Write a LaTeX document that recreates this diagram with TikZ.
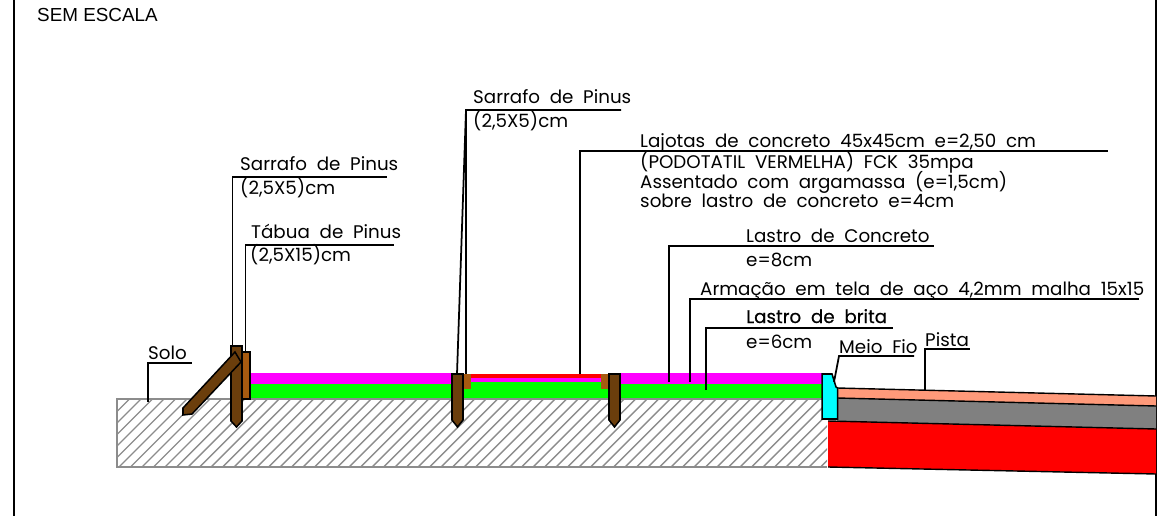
\documentclass[tikz,border=0pt]{standalone}
\usepackage{fontspec}
\setmainfont{Liberation Sans}
\newfontfamily\cadfamily[WordSpace=2]{Poppins}
\newfontfamily\cadboldfamily[WordSpace=2,FakeBold=0.6]{Poppins}
\usepackage{tikz}
\usetikzlibrary{calc,positioning}

\begin{document}
\begin{tikzpicture}[x=0.03cm,y=-0.03cm,line join=miter]
  % Colors
  \definecolor{postcolor}{HTML}{6B3E0C}
  \definecolor{boardcolor}{HTML}{A65A10}
  \definecolor{peachcolor}{HTML}{FF9A7A}
  \definecolor{slabcolor}{HTML}{FF00FF}
  \definecolor{gravelcolor}{HTML}{00FF00}
  \definecolor{curbcolor}{HTML}{00FFFF}
  \definecolor{tilecolor}{HTML}{FF0000}
  \colorlet{hatchcolor}{black!45}

  % Styles
  \tikzstyle{cad text}=[inner sep=0pt,anchor=base west,font=\cadfamily\fontsize{15.6}{17}\selectfont]
  \tikzstyle{cad bold}=[cad text,font=\cadboldfamily\fontsize{15.6}{17}\selectfont]
  \tikzstyle{leader}=[line width=1.5pt,black]
  \tikzstyle{wood}=[draw=black,line width=1.3pt,fill=postcolor]

  \useasboundingbox (0,0) rectangle (1158,516);

  % Frame
  \draw[line width=1.5pt] (14,0) -- (14,516);
  \draw[line width=1.5pt] (1156,0) -- (1156,516);
  \node[inner sep=0pt,anchor=base west,font=\fontsize{16.1}{18}\selectfont] (semescala) at (37,22) {SEM ESCALA};

  % Soil
  \begin{scope}
    \clip (117,399) rectangle (827,467);
    \foreach \x in {50,61.5,...,830}
      \draw[hatchcolor,line width=1.2pt] (\x,467) -- ++(70,-70);
  \end{scope}
  \draw[hatchcolor,line width=1.2pt] (827,399) -- (117,399) -- (117,467) -- (827,467);

  % Slab layers
  \fill[slabcolor] (250,373) rectangle (452,384);
  \fill[gravelcolor] (250,384) rectangle (452,398);
  \fill[tilecolor] (471,374) rectangle (601,378);
  \fill[slabcolor] (471,378) rectangle (601,382);
  \fill[gravelcolor] (462,382) rectangle (610,398);
  \fill[slabcolor] (620,373) rectangle (822,384);
  \fill[gravelcolor] (620,384) rectangle (822,398);

  % Road
  \fill[peachcolor] (837,388) -- (1156,396) -- (1156,406) -- (837,398) -- cycle;
  \fill[black!50] (837,398) -- (1156,406) -- (1156,429) -- (837,421) -- cycle;
  \fill[tilecolor] (828,421) -- (1156,429) -- (1156,474) -- (828,467) -- cycle;
  \draw[line width=1.2pt] (837,388) -- (1156,396);
  \draw[line width=1.2pt] (837,398) -- (1156,406);
  \draw[line width=1.2pt] (828,421) -- (1156,429);
  \draw[line width=1.2pt] (828,467) -- (1156,474);

  % Curb
  \draw[fill=curbcolor,line width=1.3pt] (822,374) -- (832,374) -- (836,387) -- (837.5,388) -- (837.5,419) -- (822,419) -- cycle;

  % Wood
  \fill[boardcolor] (462,374) rectangle (471,389);
  \fill[boardcolor] (601,374) rectangle (610,389);
  \draw[draw=black,line width=1.2pt,fill=boardcolor] (242,352) rectangle (250,399);
  \draw[wood] (231,346) -- (242,346) -- (242,421) -- (236.5,427) -- (231,421) -- cycle;
  \draw[wood] (235,352) -- (241,362) -- (192,414) -- (183,415) -- (183,408) -- cycle;
  \draw[wood] (452,374) -- (463,374) -- (463,420) -- (457.5,427) -- (452,420) -- cycle;
  \draw[wood] (609,374) -- (620,374) -- (620,420) -- (614.5,427) -- (609,420) -- cycle;

  % Leaders
  \coordinate (solotip) at (148,402);
  \coordinate (soloend) at (192,363);
  \draw[leader] (solotip) |- (soloend);
  \coordinate (sarrafoatip) at (232.5,347);
  \coordinate (sarrafoaend) at (387,177);
  \draw[leader] (sarrafoatip) |- (sarrafoaend);
  \coordinate (tabuatip) at (245.5,353);
  \coordinate (tabuaend) at (394,245);
  \draw[leader] (tabuatip) |- (tabuaend);
  \coordinate (sarrafobtop) at (466,110);
  \coordinate (sarrafobend) at (621,110);
  \coordinate (sarrafobtipa) at (457,374);
  \coordinate (sarrafobtipb) at (466,374);
  \draw[leader] (sarrafobtipa) -- (sarrafobtop) -- (sarrafobend);
  \draw[leader] (sarrafobtop) -- (sarrafobtipb);
  \coordinate (lajotatip) at (580,374);
  \coordinate (lajotaend) at (1108,151);
  \draw[leader] (lajotatip) |- (lajotaend);
  \coordinate (concretotip) at (669,382);
  \coordinate (concretoend) at (934,246);
  \draw[leader] (concretotip) |- (concretoend);
  \coordinate (armacaotip) at (690,382);
  \coordinate (armacaoend) at (1139,299);
  \draw[leader] (armacaotip) |- (armacaoend);
  \coordinate (britatip) at (706,390);
  \coordinate (britaend) at (893,328);
  \draw[leader] (britatip) |- (britaend);
  \coordinate (meiofiotip) at (834,382);
  \coordinate (meiofiotop) at (839,356);
  \coordinate (meiofioend) at (914,356);
  \draw[leader] (meiofiotip) -- (meiofiotop) -- (meiofioend);
  \coordinate (pistatip) at (925,390);
  \coordinate (pistaend) at (970,349);
  \draw[leader] (pistatip) |- (pistaend);

  % Labels
  \node[cad text] (solo) at (148,359) {Solo};
  \node[cad text] (sarrafoa) at (240,171) {Sarrafo de Pinus};
  \node[cad text] (sarrafoasize) at (240,195) {(2,5X5)cm};
  \node[cad text] (tabua) at (251,239) {Tábua de Pinus};
  \node[cad text] (tabuasize) at (250,262) {(2,5X15)cm};
  \node[cad text] (sarrafob) at (473,104) {Sarrafo de Pinus};
  \node[cad text] (sarrafobsize) at (473,128) {(2,5X5)cm};
  \node[cad text] (lajotaa) at (640,148) {Lajotas de concreto 45x45cm e=2,50 cm};
  \node[cad text] (lajotab) at (640,169) {(PODOTATIL VERMELHA) FCK 35mpa};
  \node[cad text] (lajotac) at (640,189) {Assentado com argamassa (e=1,5cm)};
  \node[cad text] (lajotad) at (640,208) {sobre lastro de concreto e=4cm};
  \node[cad text] (concreto) at (746,243) {Lastro de Concreto};
  \node[cad text] (concretosize) at (746,267) {e=8cm};
  \node[cad text] (armacao) at (700,295) {Armação em tela de aço 4,2mm malha 15x15};
  \node[cad bold] (brita) at (746,323) {Lastro de brita};
  \node[cad text] (britasize) at (746,348) {e=6cm};
  \node[cad text] (meiofio) at (839,353) {Meio Fio};
  \node[cad text] (pista) at (925,346) {Pista};
\end{tikzpicture}
\end{document}
